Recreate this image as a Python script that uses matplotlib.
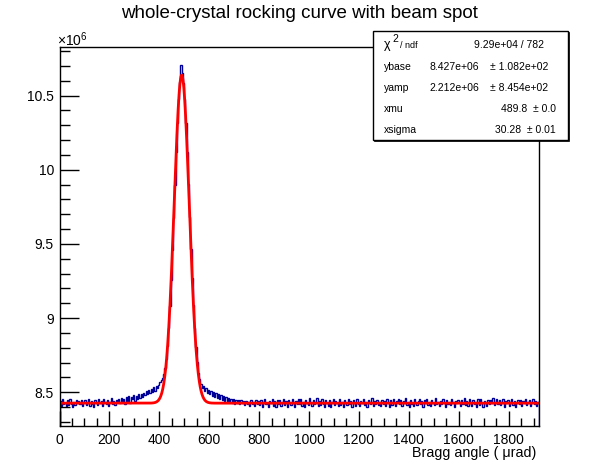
import numpy as np
import matplotlib
matplotlib.use('Agg')
import matplotlib.pyplot as plt
from matplotlib.ticker import MultipleLocator, FuncFormatter
from matplotlib.patches import Rectangle

plt.rcParams['font.family'] = ['Liberation Sans', 'DejaVu Sans']
plt.rcParams['mathtext.fontset'] = 'custom'
plt.rcParams['mathtext.rm'] = 'Liberation Sans'
plt.rcParams['mathtext.it'] = 'Liberation Sans'

# histogram: 384 bins of 5 urad from 0 to 1920, counts in units of 1e6
x_min = 0
x_max = 1920
counts = [
    8.440, 8.410, 8.453, 8.421, 8.431, 8.406, 8.445, 8.417, 8.456, 8.424, 8.402, 8.437, 8.413, 8.449, 8.426, 8.442,
    8.419, 8.451, 8.408, 8.434, 8.447, 8.415, 8.428, 8.458, 8.411, 8.439, 8.422, 8.404, 8.446, 8.430, 8.416, 8.452,
    8.425, 8.443, 8.409, 8.455, 8.432, 8.418, 8.448, 8.407, 8.438, 8.460, 8.421, 8.444, 8.414, 8.450, 8.435, 8.458,
    8.427, 8.462, 8.436, 8.455, 8.418, 8.466, 8.444, 8.472, 8.431, 8.468, 8.452, 8.479, 8.441, 8.475, 8.458, 8.486,
    8.463, 8.492, 8.471, 8.498, 8.479, 8.507, 8.486, 8.515, 8.495, 8.521, 8.503, 8.534, 8.512, 8.542, 8.526, 8.551,
    8.568, 8.581, 8.598, 8.625, 8.662, 8.724, 8.815, 8.935, 9.080, 9.256, 9.458, 9.672, 9.896, 10.118, 10.315, 10.478,
    10.594, 10.705, 10.652, 10.587, 10.480, 10.318, 10.121, 9.905, 9.682, 9.467, 9.268, 9.088, 8.934, 8.808, 8.706, 8.631,
    8.588, 8.556, 8.531, 8.542, 8.509, 8.527, 8.496, 8.518, 8.487, 8.509, 8.478, 8.501, 8.469, 8.493, 8.462, 8.486,
    8.455, 8.479, 8.448, 8.472, 8.441, 8.466, 8.437, 8.461, 8.432, 8.458, 8.429, 8.455, 8.423, 8.450, 8.426, 8.447,
    8.419, 8.446, 8.425, 8.441, 8.412, 8.444, 8.421, 8.438, 8.409, 8.450, 8.418, 8.435, 8.405, 8.447, 8.424, 8.440,
    8.413, 8.448, 8.402, 8.437, 8.455, 8.420, 8.431, 8.399, 8.444, 8.426, 8.458, 8.411, 8.439, 8.404, 8.451, 8.422,
    8.446, 8.407, 8.433, 8.457, 8.416, 8.441, 8.403, 8.449, 8.425, 8.412, 8.453, 8.430, 8.398, 8.442, 8.419, 8.456,
    8.421, 8.452, 8.410, 8.438, 8.401, 8.447, 8.427, 8.415, 8.459, 8.433, 8.406, 8.445, 8.418, 8.436, 8.462, 8.409,
    8.440, 8.414, 8.455, 8.423, 8.400, 8.446, 8.431, 8.411, 8.450, 8.404, 8.437, 8.458, 8.416, 8.443, 8.425, 8.408,
    8.454, 8.417, 8.436, 8.403, 8.448, 8.428, 8.412, 8.457, 8.420, 8.441, 8.399, 8.445, 8.430, 8.410, 8.452, 8.424,
    8.409, 8.443, 8.426, 8.455, 8.414, 8.438, 8.402, 8.449, 8.432, 8.418, 8.460, 8.407, 8.439, 8.421, 8.447, 8.413,
    8.435, 8.405, 8.451, 8.419, 8.442, 8.411, 8.458, 8.427, 8.400, 8.446, 8.416, 8.453, 8.430, 8.408, 8.440, 8.456,
    8.418, 8.450, 8.406, 8.444, 8.429, 8.460, 8.413, 8.436, 8.403, 8.448, 8.422, 8.409, 8.454, 8.431, 8.415, 8.443,
    8.452, 8.420, 8.439, 8.401, 8.446, 8.425, 8.457, 8.412, 8.434, 8.406, 8.449, 8.428, 8.416, 8.461, 8.423, 8.437,
    8.407, 8.444, 8.418, 8.453, 8.430, 8.402, 8.447, 8.421, 8.438, 8.414, 8.456, 8.433, 8.404, 8.441, 8.427, 8.451,
    8.434, 8.410, 8.448, 8.424, 8.459, 8.417, 8.440, 8.405, 8.452, 8.429, 8.411, 8.445, 8.420, 8.436, 8.401, 8.457,
    8.416, 8.455, 8.427, 8.403, 8.442, 8.431, 8.408, 8.450, 8.419, 8.446, 8.425, 8.461, 8.412, 8.438, 8.454, 8.422,
    8.448, 8.413, 8.435, 8.457, 8.404, 8.439, 8.426, 8.451, 8.410, 8.433, 8.458, 8.417, 8.444, 8.402, 8.430, 8.447,
    8.423, 8.451, 8.409, 8.440, 8.428, 8.455, 8.414, 8.436, 8.446, 8.405, 8.432, 8.453, 8.418, 8.443, 8.411, 8.437,
]

# fit result (gaus + const) as printed in the stats box
ybase = 8.427e6
yamp = 2.212e6
xmu = 489.8
xsigma = 30.28

stat_names = ['ybase', 'yamp']
stat_values = ['8.427e+06', '2.212e+06']
stat_errors = ['± 1.082e+02', '± 8.454e+02']
stat_short = [('xmu', '489.8  ± 0.0'), ('xsigma', '30.28  ± 0.01')]
chi2_text = '9.29e+04 / 782'

W, H = 598, 474


def fx(px):
    return px / W


def fy(py):
    return 1 - py / H


fig = plt.figure(figsize=(W / 100, H / 100), dpi=100)
ax = fig.add_axes([fx(59.5), fy(426), 479 / W, 379 / H])

edges = np.linspace(x_min, x_max, len(counts) + 1)
ax.stairs(counts, edges, color='#000099', linewidth=1.0)

xf = np.linspace(x_min, x_max, 2000)
yf = (ybase + yamp * np.exp(-0.5 * ((xf - xmu) / xsigma) ** 2)) / 1e6
ax.plot(xf, yf, color='red', linewidth=2.0)

ax.set_xlim(x_min, x_max)
ax.set_ylim(8.273, 10.828)

ax.xaxis.set_major_locator(MultipleLocator(200))
ax.xaxis.set_minor_locator(MultipleLocator(50))
ax.yaxis.set_major_locator(MultipleLocator(0.5))
ax.yaxis.set_minor_locator(MultipleLocator(0.1))
ax.yaxis.set_major_formatter(FuncFormatter(lambda v, p: '%g' % v))
ax.tick_params(which='both', direction='in', top=False, right=False, labelsize=10, width=1)
ax.tick_params(axis='y', which='major', length=14, pad=4)
ax.tick_params(axis='y', which='minor', length=7)
ax.tick_params(axis='x', which='major', length=11, pad=5)
ax.tick_params(axis='x', which='minor', length=5.5)
for s in ax.spines.values():
    s.set_linewidth(1)

fig.text(0.5, fy(14), 'whole-crystal rocking curve with beam spot', ha='center', va='center', fontsize=13.5)
fig.text(fx(536), fy(453), 'Bragg angle ( μrad)', ha='right', va='center', fontsize=10.3)
fig.text(fx(57), fy(40), r'$\times10^{6}$', ha='left', va='center', fontsize=10)

# stats box
bx0, by0, bx1, by1 = 373, 31, 568, 140
shadow = Rectangle((fx(bx0 + 1), fy(by1 + 1)), (bx1 - bx0) / W, (by1 - by0) / H,
                   transform=fig.transFigure, facecolor='black', edgecolor='black', linewidth=0.5, zorder=5)
box = Rectangle((fx(bx0), fy(by1)), (bx1 - bx0) / W, (by1 - by0) / H,
                transform=fig.transFigure, facecolor='white', edgecolor='black', linewidth=1, zorder=6)
fig.add_artist(shadow)
fig.add_artist(box)

fs = 7.5
fig.text(fx(384), fy(45), 'χ', ha='left', va='center', fontsize=9, zorder=7)
fig.text(fx(392), fy(39), '2', ha='left', va='center', fontsize=7.5, zorder=7)
fig.text(fx(400), fy(45), '/ ndf', ha='left', va='center', fontsize=6.5, zorder=7)
fig.text(fx(544), fy(45), chi2_text, ha='right', va='center', fontsize=fs, zorder=7)
rows_y = [67, 88]
for name, val, err, yy in zip(stat_names, stat_values, stat_errors, rows_y):
    fig.text(fx(384), fy(yy), name, ha='left', va='center', fontsize=fs, zorder=7)
    fig.text(fx(429), fy(yy), val, ha='left', va='center', fontsize=fs, zorder=7)
    fig.text(fx(490), fy(yy), err, ha='left', va='center', fontsize=fs, zorder=7)
for (name, txt), yy in zip(stat_short, [109, 130]):
    fig.text(fx(384), fy(yy), name, ha='left', va='center', fontsize=fs, zorder=7)
    fig.text(fx(556), fy(yy), txt, ha='right', va='center', fontsize=fs, zorder=7)

fig.savefig('out.png', dpi=100)
